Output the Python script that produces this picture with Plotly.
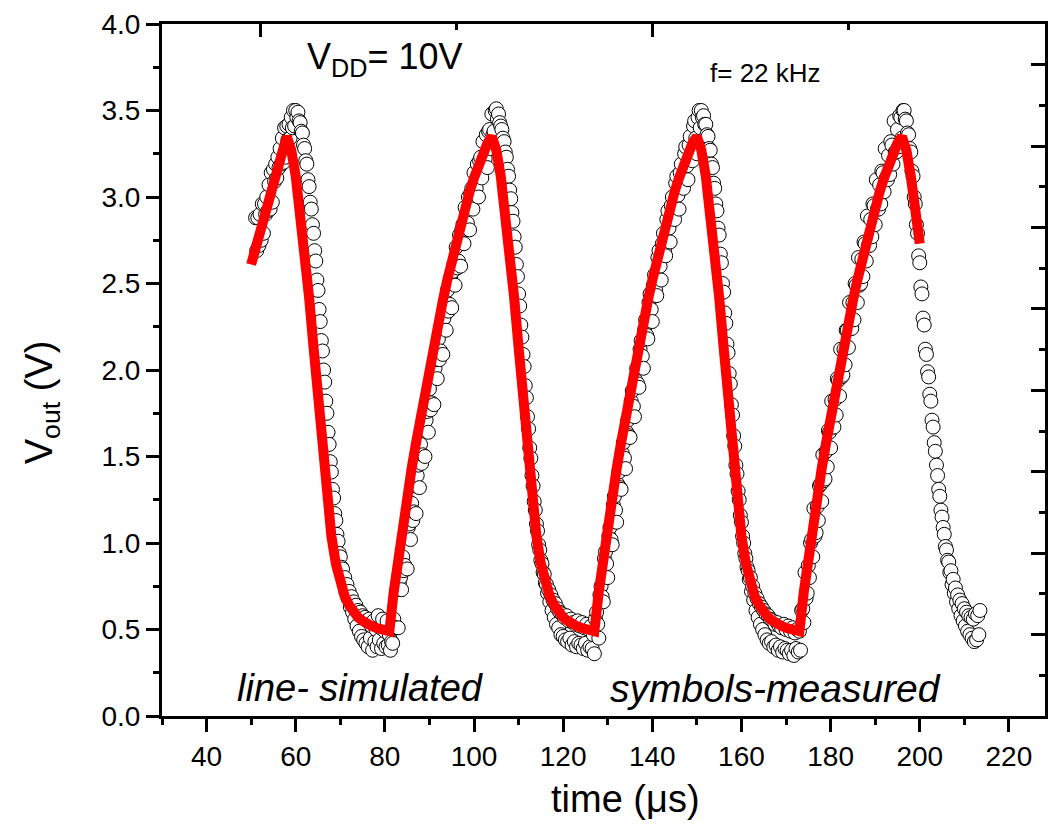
import plotly.graph_objects as go

# ---------------- data ----------------
# simulated curve (red line): time in us, one value per us from 50 to 200
sim_t0 = 50
sim_v = [
    2.61, 2.71, 2.80, 2.90, 2.99, 3.08, 3.17, 3.26, 3.35,
    3.27, 3.12, 2.92, 2.68, 2.42, 2.13, 1.83, 1.53, 1.26, 1.04, 0.88, 0.77,
    0.69, 0.64, 0.60, 0.57, 0.55, 0.53, 0.52, 0.51, 0.50, 0.50, 0.49,
    0.72, 0.92, 1.10, 1.27, 1.43, 1.58, 1.73, 1.87, 2.01, 2.14, 2.27, 2.40,
    2.52, 2.63, 2.74, 2.84, 2.94, 3.03, 3.11, 3.19, 3.25, 3.31, 3.35,
    3.27, 3.12, 2.92, 2.68, 2.42, 2.13, 1.83, 1.53, 1.26, 1.04, 0.88, 0.77,
    0.69, 0.64, 0.60, 0.57, 0.55, 0.53, 0.52, 0.51, 0.50, 0.50, 0.49,
    0.72, 0.92, 1.10, 1.27, 1.43, 1.58, 1.73, 1.87, 2.01, 2.14, 2.27, 2.40,
    2.52, 2.63, 2.74, 2.84, 2.94, 3.03, 3.11, 3.19, 3.25, 3.31, 3.35,
    3.27, 3.12, 2.92, 2.68, 2.42, 2.13, 1.83, 1.53, 1.26, 1.04, 0.88, 0.77,
    0.69, 0.64, 0.60, 0.57, 0.55, 0.53, 0.52, 0.51, 0.50, 0.50, 0.49,
    0.72, 0.92, 1.10, 1.27, 1.43, 1.58, 1.73, 1.87, 2.01, 2.14, 2.27, 2.40,
    2.52, 2.63, 2.74, 2.84, 2.94, 3.03, 3.11, 3.19, 3.25, 3.31, 3.35,
    3.27, 3.12, 2.92, 2.73,
]
sim_t = [sim_t0 + i for i in range(len(sim_v))]

# measured samples (open circles), 0.25 us sampling, in segments
meas_step = 0.25
meas_a_start = 51.0
meas_a = [
    2.88, 2.69, 2.88, 2.72, 2.90, 2.75, 2.96, 2.79, 2.96, 2.90, 3.00, 2.92,
    3.07, 2.93, 3.14, 2.97, 3.16, 3.09, 3.19, 3.11, 3.23, 3.17, 3.28, 3.19,
    3.34, 3.20, 3.40, 3.23, 3.41, 3.33, 3.42, 3.34, 3.46, 3.40, 3.50, 3.41,
]
meas_b_start = 60.0
meas_b = [
    3.50, 3.46, 3.49, 3.44, 3.43, 3.38, 3.37, 3.30, 3.28, 3.21, 3.19, 3.10,
    3.06, 2.97, 2.93, 2.84, 2.79, 2.69, 2.63, 2.52, 2.46, 2.35, 2.28, 2.17,
    2.11, 2.00, 1.93, 1.82, 1.75, 1.64, 1.57, 1.47, 1.41, 1.31, 1.26, 1.17,
    1.13, 1.05, 1.01, 0.94, 0.92, 0.86, 0.85, 0.79, 0.80, 0.72, 0.76, 0.68,
    0.72, 0.63, 0.69, 0.60, 0.66, 0.56, 0.64, 0.52, 0.61, 0.49, 0.60, 0.46,
    0.58, 0.44, 0.57, 0.42, 0.55, 0.40, 0.56, 0.45, 0.52, 0.38, 0.55, 0.43,
    0.50, 0.40, 0.58, 0.44, 0.51, 0.39, 0.56, 0.42, 0.49, 0.40, 0.55, 0.41,
    0.47, 0.38,
]
meas_c_start = 81.5
meas_c = [
    0.43, 0.42,
    0.56, 0.51, 0.51, 0.73, 0.51, 0.77, 0.80, 0.73, 0.92, 0.84, 0.87, 1.04,
    0.85, 1.09, 1.11, 1.02, 1.23, 1.13, 1.18, 1.33, 1.17, 1.39, 1.45, 1.32,
    1.57, 1.46, 1.51, 1.65, 1.50, 1.71, 1.76, 1.64, 1.89, 1.77, 1.81, 1.97,
    1.80, 2.01, 2.06, 1.95, 2.18, 2.06, 2.11, 2.26, 2.09, 2.30, 2.35, 2.23,
    2.46, 2.34, 2.38, 2.53, 2.36, 2.57, 2.61, 2.49, 2.71, 2.59, 2.63, 2.78,
    2.60, 2.81, 2.84, 2.73, 2.94, 2.82, 2.85, 3.00, 2.81, 3.02, 3.05, 2.93,
    3.14, 3.02, 3.05, 3.19, 3.00, 3.21, 3.23, 3.11, 3.32, 3.19, 3.22, 3.36,
    3.17, 3.38, 3.39, 3.28, 3.48, 3.36, 3.38, 3.50,
]
meas_d_start = 105.0
meas_d = [
    3.51, 3.45, 3.48, 3.43, 3.41, 3.39, 3.34, 3.32, 3.26, 3.23, 3.16, 3.12,
    3.04, 2.99, 2.91, 2.86, 2.77, 2.71, 2.61, 2.54, 2.44, 2.37, 2.26, 2.19,
    2.09, 2.02, 1.91, 1.84, 1.73, 1.66, 1.55, 1.49, 1.39, 1.33, 1.24, 1.19,
    1.11, 1.07, 0.99, 0.96, 0.90, 0.88, 0.83, 0.82, 0.77, 0.76, 0.71, 0.73,
    0.66, 0.70, 0.61, 0.67, 0.57, 0.65, 0.53, 0.62, 0.51, 0.60, 0.47, 0.59,
    0.46, 0.57, 0.44, 0.58, 0.43, 0.55, 0.45, 0.56, 0.41, 0.54, 0.43, 0.53,
    0.40, 0.55, 0.42, 0.52, 0.41, 0.54, 0.39, 0.51, 0.42, 0.53, 0.38, 0.50,
    0.40, 0.52, 0.39, 0.47,
]
meas_e_start = 127.0
meas_e = [
    0.36, 0.56, 0.60, 0.53, 0.45, 0.70, 0.75, 0.69, 0.66, 0.91, 0.95, 0.88,
    0.80, 1.04, 1.09, 1.02, 0.99, 1.22, 1.27, 1.19, 1.12, 1.34, 1.41, 1.32,
    1.31, 1.52, 1.58, 1.49, 1.43, 1.64, 1.71, 1.62, 1.61, 1.82, 1.88, 1.79,
    1.73, 1.94, 2.01, 1.92, 1.90, 2.12, 2.17, 2.08, 2.01, 2.23, 2.29, 2.20,
    2.18, 2.39, 2.44, 2.35, 2.28, 2.49, 2.55, 2.46, 2.43, 2.65, 2.69, 2.60,
    2.52, 2.73, 2.79, 2.69, 2.66, 2.87, 2.92, 2.82, 2.74, 2.95, 3.00, 2.90,
    2.87, 3.08, 3.12, 3.01, 2.93, 3.14, 3.19, 3.08, 3.05, 3.25, 3.29, 3.18,
    3.10, 3.30, 3.35, 3.24, 3.21, 3.41, 3.44, 3.34, 3.25, 3.46, 3.50, 3.40,
]
meas_f_start = 151.0
meas_f = [
    3.50, 3.46, 3.47, 3.42, 3.42, 3.36, 3.35, 3.28, 3.27, 3.19, 3.17, 3.08,
    3.05, 2.96, 2.92, 2.82, 2.78, 2.67, 2.62, 2.50, 2.45, 2.33, 2.27, 2.15,
    2.10, 1.98, 1.92, 1.80, 1.74, 1.62, 1.56, 1.45, 1.40, 1.30, 1.25, 1.16,
    1.12, 1.04, 1.00, 0.94, 0.91, 0.86, 0.84, 0.79, 0.80, 0.72, 0.75, 0.67,
    0.71, 0.61, 0.68, 0.57, 0.65, 0.53, 0.63, 0.50, 0.61, 0.47, 0.59, 0.44,
    0.58, 0.42, 0.56, 0.43, 0.55, 0.40, 0.53, 0.41, 0.54, 0.38, 0.52, 0.40,
    0.51, 0.37, 0.53, 0.39, 0.50, 0.38, 0.52, 0.36, 0.49, 0.38, 0.51, 0.35,
    0.48, 0.39, 0.50, 0.37,
]
meas_g_start = 173.0
meas_g = [
    0.49, 0.38, 0.61, 0.62, 0.54, 0.83, 0.68, 0.71, 0.87, 0.80, 1.00, 1.02,
    0.92, 1.20, 1.04, 1.06, 1.21, 1.13, 1.33, 1.34, 1.24, 1.51, 1.36, 1.37,
    1.53, 1.44, 1.65, 1.64, 1.55, 1.82, 1.67, 1.67, 1.83, 1.74, 1.95, 1.94,
    1.85, 2.12, 1.96, 1.97, 2.12, 2.03, 2.23, 2.23, 2.13, 2.39, 2.24, 2.24,
    2.39, 2.29, 2.50, 2.49, 2.39, 2.65, 2.49, 2.50, 2.64, 2.54, 2.74, 2.73,
    2.63, 2.89, 2.72, 2.72, 2.87, 2.77, 2.96, 2.95, 2.84, 3.10, 2.93, 2.93,
    3.07, 2.96, 3.15, 3.14, 3.03, 3.28, 3.11, 3.10, 3.24, 3.13, 3.32, 3.30,
    3.19, 3.44, 3.26, 3.26, 3.39, 3.29, 3.47, 3.46, 3.34, 3.50,
]
meas_h_start = 196.5
meas_h = [
    3.50, 3.45,
    3.44, 3.37, 3.36, 3.28, 3.26, 3.15, 3.12, 3.00, 2.96, 2.84, 2.79, 2.66,
    2.62, 2.48, 2.44, 2.30, 2.26, 2.12, 2.09, 1.99, 1.96, 1.86, 1.82, 1.71,
    1.67, 1.58, 1.53, 1.45, 1.39, 1.31, 1.27, 1.19, 1.15, 1.09, 1.05, 0.98,
    0.96, 0.90, 0.89, 0.83, 0.84, 0.76, 0.79, 0.71, 0.74, 0.66, 0.70, 0.62,
    0.67, 0.58, 0.65, 0.55, 0.62, 0.52, 0.60, 0.49, 0.58, 0.47, 0.57, 0.45,
    0.56, 0.43, 0.59, 0.44, 0.58, 0.47, 0.61,
]

x_tick_vals = [40, 60, 80, 100, 120, 140, 160, 180, 200, 220]
x_minor_vals = [30, 50, 70, 90, 110, 130, 150, 170, 190, 210]
y_tick_vals = [0.0, 0.5, 1.0, 1.5, 2.0, 2.5, 3.0, 3.5, 4.0]
y_tick_text = ["0.0", "0.5", "1.0", "1.5", "2.0", "2.5", "3.0", "3.5", "4.0"]

segments = [
    (meas_a_start, meas_a), (meas_b_start, meas_b), (meas_c_start, meas_c),
    (meas_d_start, meas_d), (meas_e_start, meas_e), (meas_f_start, meas_f),
    (meas_g_start, meas_g), (meas_h_start, meas_h),
]
meas_t, meas_v = [], []
for start, vals in segments:
    for i, v in enumerate(vals):
        meas_t.append(start + meas_step * i)
        meas_v.append(v)

# ---------------- figure ----------------
FONT = "Liberation Sans, Arial, sans-serif"
W, H = 1054, 830
L, R, T, B = 162, 1045, 19, 716

fig = go.Figure()
fig.add_trace(go.Scatter(
    x=meas_t, y=meas_v, mode="markers",
    marker=dict(symbol="circle", size=14, color="white",
                line=dict(color="black", width=1)),
    showlegend=False, hoverinfo="skip",
))
fig.add_trace(go.Scatter(
    x=sim_t, y=sim_v, mode="lines",
    line=dict(color="#ff0000", width=10),
    showlegend=False, hoverinfo="skip",
))
# dummy trace to activate the mirror (top/right) axes
fig.add_trace(go.Scatter(x=[None], y=[None], xaxis="x2", yaxis="y2",
                         showlegend=False, hoverinfo="skip"))

axis_common = dict(showgrid=False, zeroline=False, showline=True,
                   linecolor="black", linewidth=3)

fig.update_layout(
    width=W, height=H,
    margin=dict(l=L, r=W - R, t=T, b=H - B),
    paper_bgcolor="white", plot_bgcolor="white",
    font=dict(family=FONT, color="black", size=28),
    xaxis=dict(
        **axis_common, range=[30, 228.1], side="bottom",
        tickmode="array", tickvals=x_tick_vals,
        ticks="outside", ticklen=13, tickwidth=3, tickcolor="black",
        tickfont=dict(size=28, family=FONT, color="black"),
        minor=dict(tickmode="array", tickvals=x_minor_vals, ticks="outside",
                   ticklen=6, tickwidth=3, tickcolor="black", showgrid=False),
    ),
    yaxis=dict(
        **axis_common, range=[0, 4.0], side="left",
        tickmode="array", tickvals=y_tick_vals, ticktext=y_tick_text,
        ticks="outside", ticklen=13, tickwidth=3, tickcolor="black",
        tickfont=dict(size=28, family=FONT, color="black"),
        minor=dict(tickmode="linear", tick0=0.25, dtick=0.5, ticks="outside",
                   ticklen=6, tickwidth=3, tickcolor="black", showgrid=False),
    ),
    xaxis2=dict(
        **axis_common, overlaying="x", side="top", anchor="y2",
        range=[-0.25, 2.0], tickmode="array", tickvals=[0, 1],
        ticks="inside", ticklen=13, tickwidth=3, tickcolor="black",
        showticklabels=False,
        minor=dict(tickmode="array", tickvals=[0.5, 1.5], ticks="inside",
                   ticklen=6, tickwidth=3, tickcolor="black", showgrid=False),
    ),
    yaxis2=dict(
        **axis_common, overlaying="y", side="right", anchor="x2",
        range=[0, 8.5], tickmode="linear", tick0=0, dtick=1,
        ticks="inside", ticklen=14, tickwidth=3, tickcolor="black",
        showticklabels=False,
        minor=dict(tickmode="linear", tick0=0.5, dtick=1, ticks="inside",
                   ticklen=6, tickwidth=3, tickcolor="black", showgrid=False),
    ),
)


def px(xp):
    return (xp - L) / (R - L)


def py(yp):
    return (B - yp) / (B - T)


annotations = [
    dict(text="time (\u03bcs)", x=px(625), y=py(800), font=dict(size=38)),
    dict(text="V<sub>out</sub> (V)", x=px(42), y=py(400), textangle=-90,
         font=dict(size=38)),
    dict(text="V<sub>DD</sub>= 10V", x=px(305), y=py(54), xanchor="left",
         font=dict(size=36)),
    dict(text="f= 22 kHz", x=px(765), y=py(68), font=dict(size=26)),
    dict(text="<i>line- simulated</i>", x=px(235), y=py(688), xanchor="left",
         font=dict(size=38)),
    dict(text="<i>symbols-measured</i>", x=px(608), y=py(688), xanchor="left",
         font=dict(size=39)),
]
for a in annotations:
    a.setdefault("xanchor", "center")
    a.update(xref="paper", yref="paper", showarrow=False, yanchor="middle")
    a["font"] = dict(family=FONT, color="black", **a["font"])
fig.update_layout(annotations=annotations)

fig.write_html("out.html")
